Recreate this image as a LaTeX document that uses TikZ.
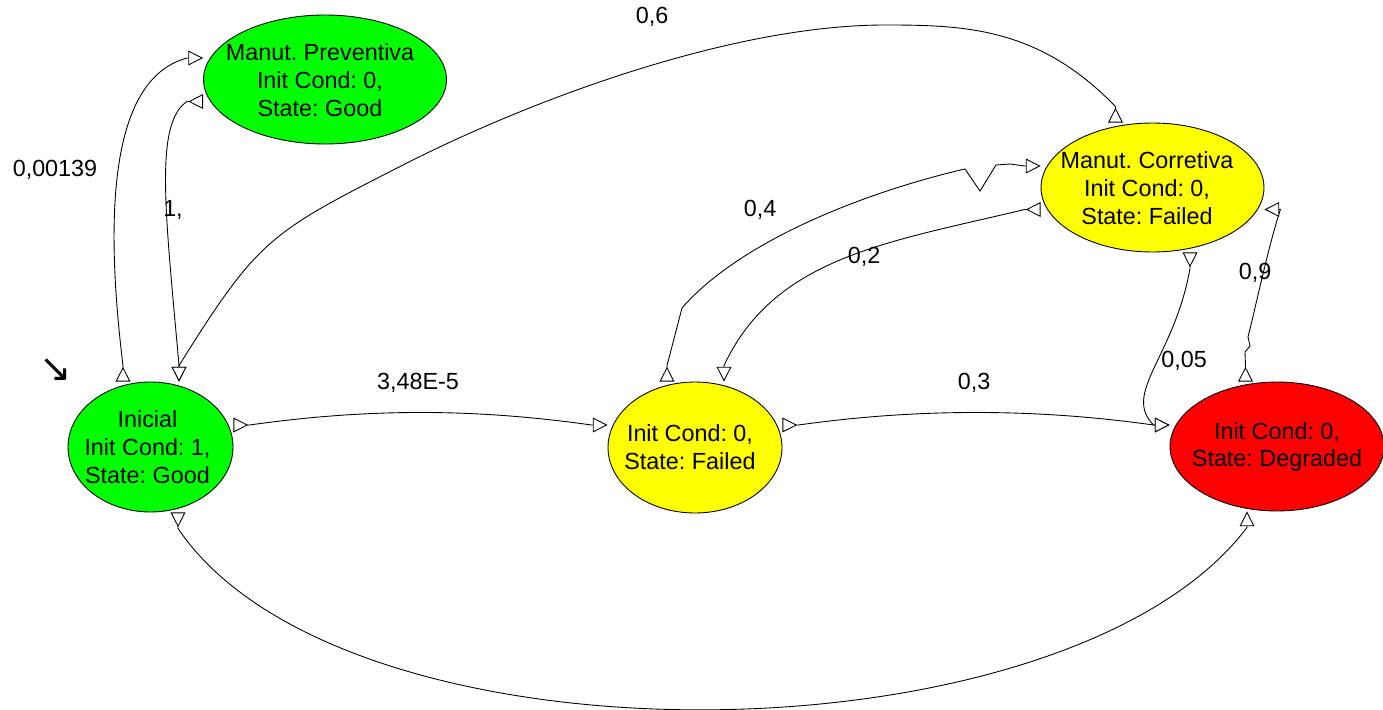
\documentclass[tikz,border=0pt]{standalone}
\usepackage{fontspec}
\setmainfont{Liberation Sans}
\newfontfamily\arrowfont{DejaVu Sans}
\usetikzlibrary{arrows.meta,shapes.geometric,calc}
\definecolor{stgreen}{RGB}{0,255,0}
\definecolor{styellow}{RGB}{255,255,0}
\definecolor{stred}{RGB}{255,0,0}
\tikzset{
  ts/.tip={Triangle[reversed,fill=white,length=8.4pt,width=8.4pt]},
  te/.tip={Triangle[fill=white,length=8.4pt,width=8.4pt]},
}
\frenchspacing
\begin{document}
\begin{tikzpicture}[x=0.02cm,y=0.02cm,
  state/.style={ellipse, draw=black, line width=0.5pt, inner sep=0pt},
  txt/.style={font=\frenchspacing\fontsize{13.3}{15.8}\selectfont, align=center, inner sep=0pt},
  lbl/.style={font=\fontsize{13.3}{15.8}\selectfont, inner sep=0pt},
  conn/.style={draw=black, line width=0.5pt, ts-te},
]
\useasboundingbox (0,0) rectangle (1383,-710);

% states
\node[state, fill=stgreen, minimum width=3.3cm, minimum height=2.6cm] (ini) at (150.5,-447) {};
\node[state, fill=stgreen, minimum width=4.86cm, minimum height=2.58cm] (pre) at (325,-79.5) {};
\node[state, fill=styellow, minimum width=3.48cm, minimum height=2.62cm] (fai) at (695,-447.5) {};
\node[state, fill=styellow, minimum width=4.46cm, minimum height=2.58cm] (cor) at (1152.5,-187.5) {};
\node[state, fill=stred, minimum width=4.28cm, minimum height=2.58cm] (deg) at (1277,-446.5) {};

\node[txt] (ini-t) at (147.5,-447) {Inicial\\Init Cond: 1,\\State: Good};
\node[txt] (pre-t) at (320,-80) {Manut. Preventiva\\Init Cond: 0,\\State: Good};
\node[txt] (fai-t) at (690,-447.5) {Init Cond: 0,\\State: Failed};
\node[txt] (cor-t) at (1147,-188) {Manut. Corretiva\\Init Cond: 0,\\State: Failed};
\node[txt] (deg-t) at (1277,-447) {Init Cond: 0,\\State: Degraded};

% initial marker
\node[font=\arrowfont\fontsize{22}{22}\selectfont, inner sep=0pt] (mark) at (56,-370) {↘};

% transitions
\draw[conn] ($(ini.north)+(-27.5,0)$) -- ++(0,16)
  .. controls +(97:210) and +(195:60) .. ($(pre.west)+(-16,21.5)$) -- ($(pre.west)+(0,21.5)$);
\draw[conn] ($(pre.west)+(0,-22)$) -- ++(-16,0)
  .. controls +(213:40) and +(95:150) .. ($(ini.north)+(28.5,16)$) -- ($(ini.north)+(28.5,0)$);
\draw[conn] ($(cor.north)+(-37,0)$) -- ++(0,16)
  .. controls +(134:110) and +(0:80) .. (885,-25)
  .. controls +(180:150) and +(27:150) .. (403,-165)
  .. controls +(207:150) and +(58:150) .. ($(ini.north)+(28.5,16)$) -- ($(ini.north)+(28.5,0)$);
\draw[conn] ($(ini.east)+(0,22)$) -- ++(16,0)
  .. controls +(8:120) and +(172:120) .. ($(fai.west)+(-16,22.5)$) -- ($(fai.west)+(0,22.5)$);
\draw[conn] ($(fai.east)+(0,22.5)$) -- ++(16,0)
  .. controls +(8:120) and +(172:120) .. ($(deg.west)+(-16,21.5)$) -- ($(deg.west)+(0,21.5)$);
\draw[conn] ($(fai.north)+(-28,0)$) -- ++(0,16) -- (682,-308)
  .. controls +(49:90) and +(193:100) .. (965,-169) -- (980,-191) -- (996,-165) -- (1010,-164)
  -- ($(cor.west)+(-16,21.5)$) -- ($(cor.west)+(0,21.5)$);
\draw[conn] ($(cor.west)+(0,-22)$) -- ++(-16,0)
  .. controls +(193.5:140) and +(65:120) .. ($(fai.north)+(29,16)$) -- ($(fai.north)+(29,0)$);
\draw[conn] ($(cor.south)+(37.5,0)$) -- ++(0,-16)
  .. controls +(260:90) and +(135:45) .. ($(deg.west)+(-16,21.5)$) -- ($(deg.west)+(0,21.5)$);
\draw[conn] ($(deg.north)+(-31.5,0)$) -- ++(0,16) -- (1245,-352) -- (1250,-346) -- (1248,-337)
  .. controls +(76:40) and +(252:40) .. ($(cor.east)+(16,-22)$) -- ($(cor.east)+(0,-22)$);
\draw[conn] ($(ini.south)+(27.5,0)$) -- ++(0,-16)
  .. controls +(-56:298) and +(233:298) .. ($(deg.south)+(-30,-16)$) -- ($(deg.south)+(-30,0)$);

% labels
\node[lbl] (l1) at (55,-170) {0,00139};
\node[lbl] (l2) at (173,-210) {1,};
\node[lbl] (l3) at (652,-17) {0,6};
\node[lbl] (l4) at (760,-210) {0,4};
\node[lbl] (l5) at (864,-257) {0,2};
\node[lbl] (l6) at (418,-383) {3,48E-5};
\node[lbl] (l7) at (974,-383) {0,3};
\node[lbl] (l8) at (1184,-361) {0,05};
\node[lbl] (l9) at (1255,-273) {0,9};
\end{tikzpicture}
\end{document}
